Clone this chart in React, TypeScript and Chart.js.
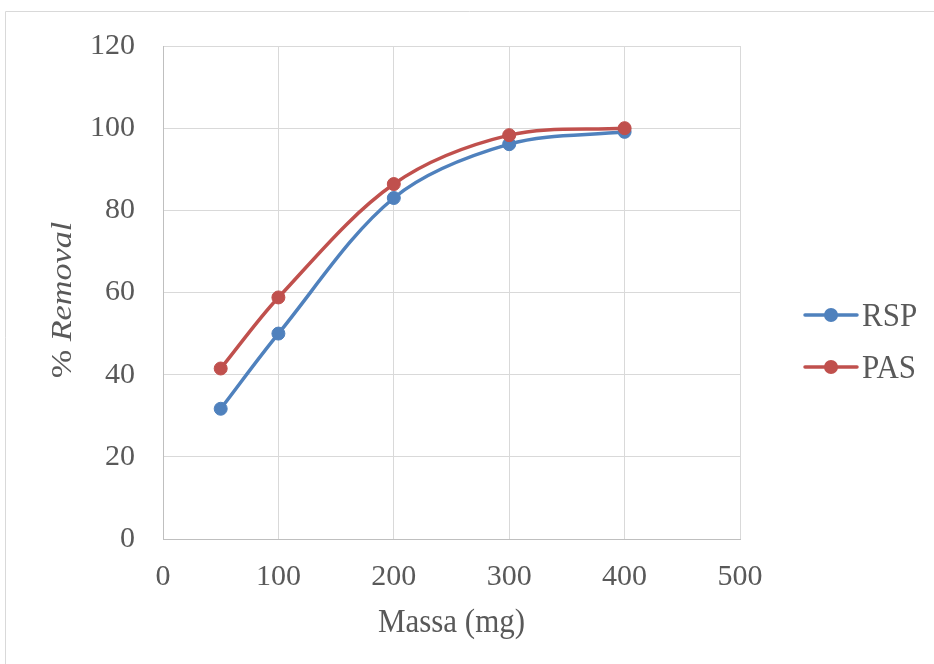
import React, { useEffect, useRef } from "react";
import { Chart, registerables } from "chart.js";

Chart.register(...registerables);

const massa = [50, 100, 200, 300, 400];
const rsp = [31.7, 50.0, 83.0, 96.1, 99.1];
const pas = [41.5, 58.8, 86.4, 98.3, 100.0];
const seriesNames = ["RSP", "PAS"];
const seriesColors = ["#4f81bd", "#c0504d"];
const xTitle = "Massa (mg)";
const yTitlePlain = "% ";
const yTitleItalic = "Removal";

const FONT = "'Liberation Serif', 'Times New Roman', serif";
const TEXT = "#595959";
const FS = 30;
const TFS = 31;
const STRETCH = 1.1;

const decor = {
  id: "decor",
  afterDraw(chart: any) {
    const ctx = chart.ctx as CanvasRenderingContext2D;
    const area = chart.chartArea;
    ctx.save();
    // outer frame
    ctx.strokeStyle = "#d9d9d9";
    ctx.lineWidth = 1;
    ctx.beginPath();
    ctx.moveTo(5.5, chart.height);
    ctx.lineTo(5.5, 11.5);
    ctx.lineTo(chart.width, 11.5);
    ctx.stroke();

    ctx.fillStyle = TEXT;
    // y title
    ctx.save();
    ctx.translate(71, 300);
    ctx.rotate(-Math.PI / 2);
    ctx.scale(1.14, 1);
    ctx.textBaseline = "alphabetic";
    ctx.textAlign = "left";
    ctx.font = `${FS}px ${FONT}`;
    const w1 = ctx.measureText(yTitlePlain).width;
    ctx.font = `italic ${FS}px ${FONT}`;
    const w2 = ctx.measureText(yTitleItalic).width;
    const start = -(w1 + w2) / 2;
    ctx.font = `${FS}px ${FONT}`;
    ctx.fillText(yTitlePlain, start, 0);
    ctx.font = `italic ${FS}px ${FONT}`;
    ctx.fillText(yTitleItalic, start + w1, 0);
    ctx.restore();

    // x title
    ctx.save();
    ctx.translate((area.left + area.right) / 2, 632);
    ctx.scale(1, STRETCH);
    ctx.font = `${TFS}px ${FONT}`;
    ctx.textAlign = "center";
    ctx.textBaseline = "alphabetic";
    ctx.fillText(xTitle, 0, 0);
    ctx.restore();

    // legend
    const ys = [315, 367];
    seriesNames.forEach((name, i) => {
      const y = ys[i];
      ctx.strokeStyle = seriesColors[i];
      ctx.lineWidth = 3.5;
      ctx.lineCap = "round";
      ctx.beginPath();
      ctx.moveTo(805, y);
      ctx.lineTo(857, y);
      ctx.stroke();
      ctx.fillStyle = seriesColors[i];
      ctx.beginPath();
      ctx.arc(831, y, 7, 0, Math.PI * 2);
      ctx.fill();
      ctx.save();
      ctx.translate(862, y + 10.5);
      ctx.scale(1, STRETCH);
      ctx.fillStyle = TEXT;
      ctx.textAlign = "left";
      ctx.textBaseline = "alphabetic";
      ctx.font = `${TFS}px ${FONT}`;
      ctx.fillText(name, 0, 0);
      ctx.restore();
    });
    ctx.restore();
  },
};

export default function App() {
  const ref = useRef<HTMLCanvasElement | null>(null);
  useEffect(() => {
    if (!ref.current) return;
    const mk = (vals: number[]) => massa.map((x, i) => ({ x, y: vals[i] }));
    const chart = new Chart(ref.current, {
      type: "line",
      data: {
        datasets: [
          {
            label: seriesNames[0],
            data: mk(rsp),
            borderColor: seriesColors[0],
            backgroundColor: seriesColors[0],
            borderWidth: 3.5,
            pointRadius: 6.5,
            pointBorderWidth: 1,
            pointBorderColor: seriesColors[0],
            tension: 0.33,
            order: 1,
          },
          {
            label: seriesNames[1],
            data: mk(pas),
            borderColor: seriesColors[1],
            backgroundColor: seriesColors[1],
            borderWidth: 3.5,
            pointRadius: 6.5,
            pointBorderWidth: 1,
            pointBorderColor: seriesColors[1],
            tension: 0.33,
            order: 0,
          },
        ],
      },
      options: {
        animation: false,
        responsive: false,
        devicePixelRatio: 1,
        layout: { padding: { top: 42, right: 194, left: 0, bottom: 0 } },
        plugins: { legend: { display: false }, tooltip: { enabled: false }, title: { display: false } },
        scales: {
          x: {
            type: "linear",
            min: 0,
            max: 500,
            ticks: { stepSize: 100, color: TEXT, font: { family: FONT, size: FS }, padding: 20 },
            grid: { color: "#d9d9d9", lineWidth: 1, drawTicks: false },
            border: { color: "#bfbfbf", width: 1 },
            afterFit: (s: any) => { s.height = 125; },
          },
          y: {
            type: "linear",
            min: 0,
            max: 120,
            ticks: { stepSize: 20, color: TEXT, font: { family: FONT, size: FS }, padding: 28 },
            grid: { color: "#d9d9d9", lineWidth: 1, drawTicks: false },
            border: { color: "#bfbfbf", width: 1 },
            afterFit: (s: any) => { s.width = 163; },
          },
        },
      },
      plugins: [decor],
    });
    return () => chart.destroy();
  }, []);
  return (
    <div style={{ position: "fixed", left: 0, top: 0, width: 934, height: 664, background: "#fff" }}>
      <canvas ref={ref} width={934} height={664} style={{ width: 934, height: 664, display: "block" }} />
    </div>
  );
}
